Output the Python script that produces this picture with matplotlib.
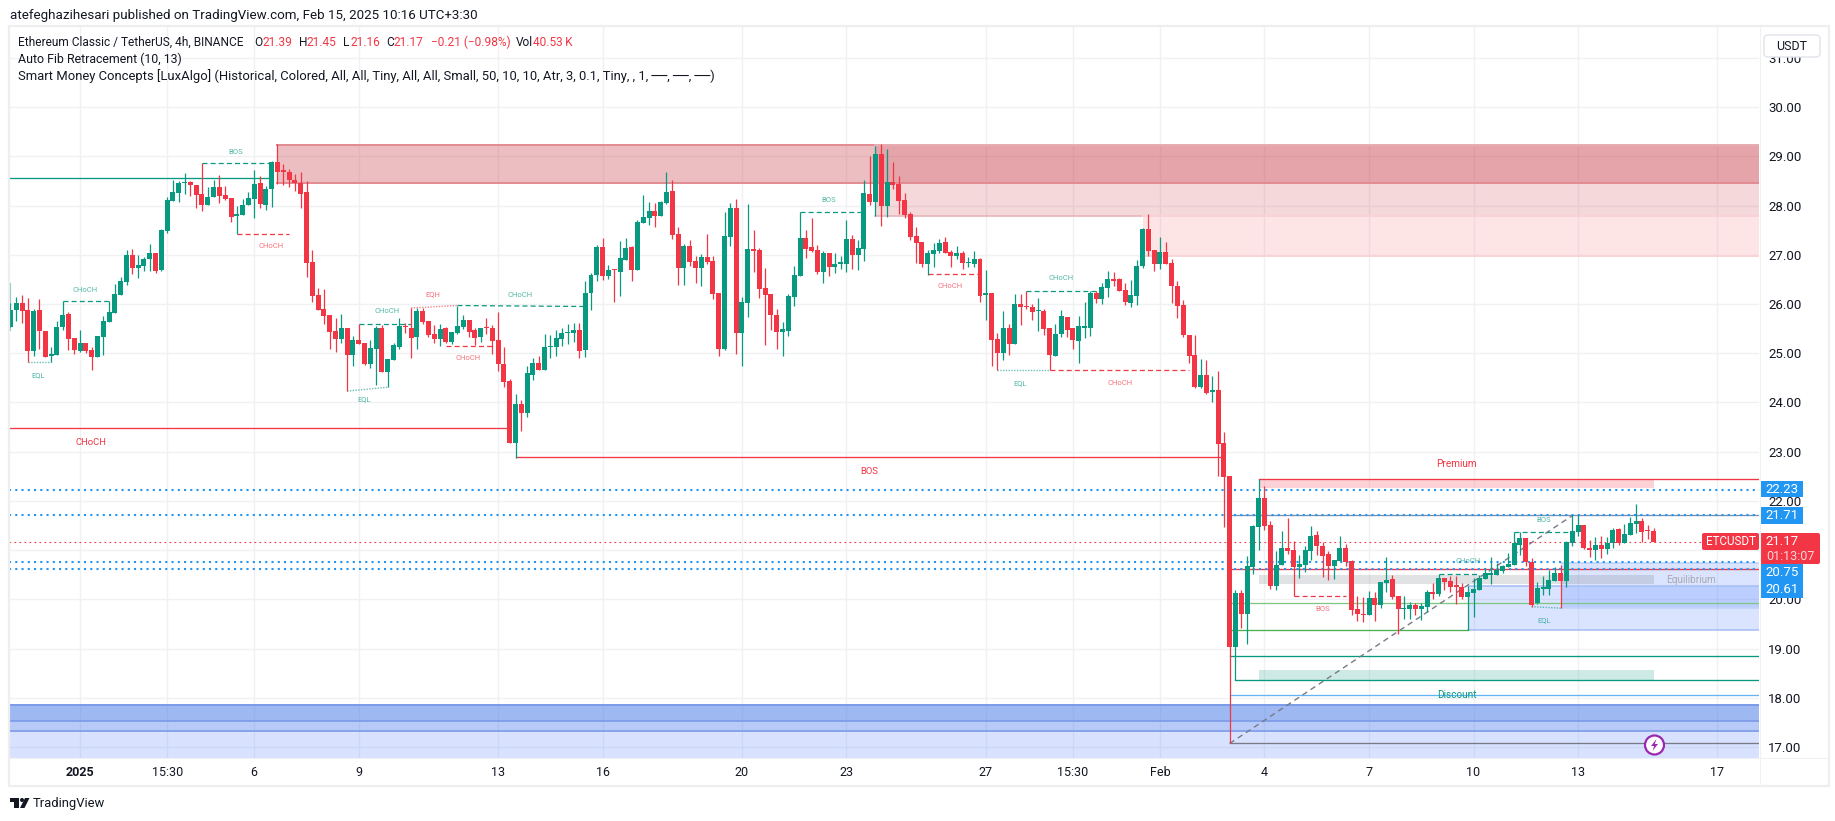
import matplotlib
matplotlib.use("Agg")
import matplotlib.pyplot as plt
from matplotlib.patches import Circle, FancyBboxPatch, Polygon, Rectangle

plt.rcParams['font.family'] = ['Roboto', 'DejaVu Sans']

# 4h candles
opens = [25.54,25.88,26.02,25.88,25.05,25.88,25.45,24.94,24.96,25.53,
25.80,25.31,25.04,25.21,25.06,24.93,25.34,25.64,25.82,26.19,
26.45,27.00,26.74,26.77,26.91,27.04,26.69,27.48,28.09,28.26,
28.46,28.48,28.42,28.24,28.01,28.18,28.38,28.22,28.15,27.78,
27.81,28.01,28.13,28.46,28.01,28.34,28.89,28.70,28.68,28.52,
28.47,28.27,26.85,26.19,25.90,25.78,25.46,25.29,25.52,24.97,
25.27,25.21,24.78,25.09,25.52,24.62,24.86,25.13,25.54,25.52,
25.33,25.86,25.66,25.39,25.29,25.52,25.23,25.41,25.54,25.68,
25.48,25.33,25.52,25.52,25.27,24.78,24.43,23.17,23.97,23.78,
24.56,24.80,24.66,25.12,25.13,25.29,25.41,25.41,25.48,25.07,
26.23,26.60,27.15,26.58,26.70,26.66,26.90,27.15,26.70,27.64,
27.74,27.90,27.78,28.05,28.29,27.43,26.74,27.17,26.88,26.74,
26.95,26.88,26.23,25.09,27.37,27.95,25.41,26.03,27.11,27.09,
26.33,26.21,25.78,25.44,25.46,26.15,26.56,27.35,27.15,27.09,
26.66,27.03,26.76,26.82,26.82,27.33,26.99,27.11,28.23,28.08,
29.04,28.00,28.49,28.43,28.12,27.82,27.39,27.27,26.82,27.01,
27.07,27.27,27.05,26.97,27.03,26.83,26.82,26.91,26.19,26.23,
25.28,25.01,25.52,25.18,26.01,25.95,25.95,25.85,25.86,25.52,
24.95,25.40,25.73,25.52,25.24,25.52,25.52,26.23,26.11,26.32,
26.49,26.50,26.29,26.03,26.17,26.78,27.52,27.09,26.82,27.05,
26.84,26.37,25.99,25.37,24.97,24.31,24.56,24.21,24.25,23.17,
22.50,19.03,20.13,19.70,20.66,21.47,22.06,21.51,20.27,20.70,
21.04,21.00,20.66,20.70,20.98,21.31,21.09,20.92,20.68,20.78,
21.04,20.78,19.81,19.70,19.68,20.03,19.89,20.33,20.41,20.07,
19.80,19.80,19.88,19.80,19.84,20.15,20.11,20.43,20.37,20.27,
20.25,20.05,20.13,20.19,20.41,20.50,20.49,20.58,20.66,20.70,
21.10,21.25,20.76,19.92,20.21,20.21,20.37,20.53,20.37,21.14,
21.37,21.51,21.04,21.00,21.10,21.02,21.14,21.43,21.14,21.31,
21.53,21.59,21.39,21.39]
highs = [26.03,26.15,26.18,26.13,25.90,26.10,25.45,25.12,25.65,26.06,
25.83,25.31,25.47,25.21,25.12,25.36,25.76,26.06,26.41,26.54,
27.10,27.12,27.00,26.96,27.22,27.04,27.52,28.18,28.52,28.51,
28.66,28.50,28.42,28.86,28.38,28.52,28.62,28.40,28.15,27.99,
28.13,28.28,28.72,28.60,28.40,28.91,29.25,28.85,28.75,28.64,
28.69,28.50,27.10,26.33,26.31,25.78,25.72,25.80,25.52,25.35,
25.60,25.21,25.27,25.56,25.58,24.88,25.21,25.72,25.61,25.92,
25.92,25.92,25.66,25.58,25.60,25.54,25.43,25.97,25.78,25.68,
25.52,25.52,25.72,25.58,25.84,25.13,24.48,24.17,24.05,24.74,
24.90,24.94,25.39,25.37,25.48,25.52,25.60,25.62,25.62,26.46,
26.64,27.19,27.35,26.80,26.72,27.29,27.35,27.17,27.70,28.21,
28.07,28.05,28.09,28.68,28.52,27.56,27.23,27.31,26.97,27.01,
27.43,26.97,26.23,27.88,28.05,28.13,26.15,28.03,27.50,27.13,
26.74,26.21,25.90,25.64,26.21,26.78,27.88,27.50,27.74,27.19,
27.07,27.03,27.03,26.97,27.70,27.41,27.31,28.53,29.00,29.22,
29.26,29.16,28.88,28.61,28.25,27.88,27.56,27.27,27.09,27.25,
27.33,27.37,27.09,27.17,27.07,26.95,27.07,26.93,26.70,26.23,
25.42,25.85,25.60,26.21,26.21,26.27,26.01,26.13,25.89,25.52,
25.60,25.87,25.73,25.52,25.75,26.05,26.27,26.27,26.42,26.68,
26.66,26.52,26.43,26.48,26.90,27.54,27.82,27.09,27.37,27.27,
26.92,26.46,26.09,25.37,25.37,24.88,24.86,24.54,24.64,23.39,
22.50,20.18,20.18,20.88,21.51,22.44,22.30,21.59,20.98,21.39,
21.65,21.19,20.90,21.09,21.49,21.39,21.17,20.98,20.80,21.29,
21.13,20.80,20.07,20.05,20.17,20.15,20.35,20.86,20.49,20.07,
20.07,19.95,19.92,19.92,20.19,20.33,20.51,20.43,20.47,20.47,
20.33,20.27,20.43,20.49,20.64,20.86,20.74,20.70,20.94,21.37,
21.37,21.25,20.84,20.35,20.47,20.60,20.66,20.70,21.18,21.71,
21.71,21.51,21.21,21.27,21.29,21.27,21.45,21.45,21.53,21.67,
21.94,21.65,21.51,21.45]
lows = [25.54,25.66,25.61,24.83,24.95,25.08,24.93,24.83,24.96,25.48,
25.07,24.99,25.02,25.01,24.66,24.93,24.96,25.63,25.82,26.19,
26.39,26.61,26.53,26.67,26.67,26.64,26.68,27.44,28.09,28.07,
28.24,28.20,27.95,27.89,28.01,28.18,28.05,28.11,27.67,27.42,
27.81,28.01,27.75,27.95,27.91,27.97,28.44,28.42,28.38,28.30,
27.96,26.54,26.05,25.88,25.60,25.09,25.03,25.21,24.23,24.74,
25.19,24.76,24.70,24.35,24.62,24.31,24.86,25.09,25.41,24.90,
25.09,25.60,25.33,25.21,25.14,25.21,25.19,25.39,25.50,25.33,
25.17,25.23,25.39,24.99,24.64,24.31,23.17,22.88,23.41,23.70,
24.46,24.66,24.66,24.90,24.94,25.15,25.19,25.23,24.90,24.92,
25.88,26.46,26.48,26.50,26.05,26.17,26.90,26.46,26.70,27.64,
27.60,27.56,27.78,28.03,27.33,26.39,26.39,26.78,26.43,26.37,
26.82,26.11,24.95,25.07,27.17,24.99,24.74,25.74,26.66,26.13,
25.17,25.48,25.09,24.95,25.35,25.97,26.56,26.93,27.05,26.62,
26.43,26.58,26.64,26.72,26.66,26.72,26.70,26.87,28.02,27.78,
27.58,27.76,28.33,27.84,27.74,27.31,26.84,26.76,26.60,26.76,
27.03,27.03,26.76,26.91,26.72,26.76,26.76,26.05,25.68,24.75,
24.65,24.87,24.97,25.18,25.58,25.89,25.67,25.46,25.38,24.65,
24.95,25.34,25.34,25.08,24.81,25.30,25.36,26.03,26.01,26.15,
26.36,26.27,25.99,25.95,25.99,26.74,26.97,26.68,26.72,26.82,
26.03,25.72,25.33,24.80,24.29,24.29,24.17,24.01,22.50,21.47,
17.07,18.37,19.42,19.09,20.52,21.00,21.41,20.21,20.19,20.70,
20.92,20.07,20.43,20.56,20.80,20.90,20.46,20.39,20.41,20.78,
20.68,19.68,19.56,19.54,19.68,19.56,19.83,20.15,20.01,19.29,
19.60,19.60,19.68,19.58,19.74,20.01,20.07,20.19,20.15,19.90,
20.01,19.38,19.64,20.19,20.41,20.31,20.49,20.53,20.66,20.70,
20.90,20.68,19.84,19.90,20.09,20.09,20.37,19.82,20.25,21.08,
21.29,21.02,20.86,20.80,20.84,20.92,21.04,21.10,21.14,21.31,
21.35,21.16,21.23,21.16]
closes = [25.88,26.02,25.86,25.05,25.86,25.46,24.93,24.98,25.53,25.77,
25.29,25.06,25.21,25.04,24.93,25.35,25.65,25.84,26.20,26.47,
27.00,26.74,26.79,26.91,27.04,26.67,27.50,28.11,28.28,28.46,
28.48,28.41,28.22,28.01,28.18,28.38,28.20,28.13,27.77,27.83,
28.01,28.15,28.44,28.03,28.34,28.89,28.68,28.69,28.52,28.47,
28.24,26.84,26.17,25.88,25.76,25.43,25.29,25.52,24.97,25.27,
25.19,24.78,25.11,25.52,24.62,24.88,25.17,25.56,25.53,25.31,
25.86,25.64,25.37,25.29,25.50,25.23,25.43,25.56,25.68,25.43,
25.31,25.52,25.51,25.25,24.78,24.41,23.17,23.97,23.78,24.60,
24.80,24.66,25.13,25.13,25.31,25.41,25.43,25.48,25.05,26.23,
26.60,27.15,26.58,26.70,26.69,26.93,27.13,26.70,27.66,27.76,
27.90,27.78,28.07,28.27,27.41,26.74,27.17,26.86,26.74,26.95,
26.86,26.21,25.09,27.39,27.95,25.41,26.05,27.11,27.07,26.31,
26.19,25.78,25.44,25.50,26.17,26.60,27.35,27.11,27.07,26.66,
27.03,26.76,26.82,26.84,27.33,26.99,27.13,28.25,28.08,29.04,
28.00,28.49,28.41,28.10,27.80,27.37,27.25,26.82,27.03,27.09,
27.25,27.03,26.97,27.03,26.84,26.84,26.91,26.17,26.23,25.26,
25.01,25.52,25.18,26.01,25.93,25.93,25.83,25.86,25.50,24.97,
25.40,25.75,25.48,25.26,25.56,25.54,26.23,26.11,26.34,26.50,
26.47,26.27,26.05,26.19,26.78,27.52,27.07,26.82,27.05,26.82,
26.37,25.97,25.37,24.95,24.31,24.56,24.19,24.25,23.15,22.48,
19.03,20.12,19.70,20.68,21.49,22.06,21.49,20.27,20.70,21.04,
20.98,20.66,20.72,21.00,21.29,21.09,20.88,20.68,20.80,21.04,
20.76,19.79,19.70,19.68,20.03,19.89,20.35,20.39,20.05,19.80,
19.82,19.88,19.80,19.86,20.15,20.11,20.43,20.35,20.25,20.26,
20.05,20.15,20.21,20.43,20.53,20.51,20.60,20.68,20.72,21.14,
21.25,20.76,19.88,20.23,20.23,20.39,20.53,20.37,21.16,21.39,
21.51,21.04,21.00,21.10,21.02,21.14,21.41,21.14,21.33,21.55,
21.59,21.37,21.38,21.17]

date_ticks = [12, 27, 42, 60, 84, 102, 126, 144, 168, 183, 198, 216, 234, 252, 270, 294]
date_labels = ['2025', '15:30', '6', '9', '13', '16', '20', '23', '27', '15:30', 'Feb', '4', '7', '10', '13', '17']
price_ticks = list(range(17, 32))

fib_levels = [22.23, 21.71, 20.75, 20.61]
last_price = 21.17

# structure lines: (start, start price, end, end price)
green_dashes = [(33, 28.86, 45, 28.86), (9, 26.06, 17, 26.06), (60, 25.59, 69, 25.59),
                (77, 25.97, 99, 25.95), (136, 27.88, 147, 27.88), (175, 26.27, 187, 26.27),
                (246, 20.52, 253, 20.52), (259, 21.36, 269, 21.36)]
red_dashes = [(39, 27.42, 48, 27.42), (75, 25.14, 83, 25.14), (158, 26.61, 167, 26.61),
              (179, 24.65, 203, 24.65), (221, 20.07, 230, 20.07)]
eql_dots = [(3, 24.83, 7, 24.83), (58, 24.23, 65, 24.31), (170, 24.65, 179, 24.65),
            (262, 19.85, 267, 19.82)]
eqh_dots = [(69, 25.92, 77, 25.97)]
small_green = [('BOS', 38.8, 29.08), ('CHoCH', 12.8, 26.29), ('EQL', 4.8, 24.56),
               ('CHoCH', 64.9, 25.85), ('EQL', 60.9, 24.06), ('CHoCH', 87.8, 26.19),
               ('BOS', 140.9, 28.11), ('CHoCH', 180.9, 26.52), ('EQL', 173.9, 24.39),
               ('CHoCH', 251, 20.78), ('BOS', 264.1, 21.62), ('EQL', 264.1, 19.57)]
small_red = [('CHoCH', 44.9, 27.18), ('EQH', 72.8, 26.20), ('CHoCH', 78.8, 24.90),
             ('CHoCH', 161.8, 26.36), ('CHoCH', 191.1, 24.39), ('BOS', 226, 19.81)]

GREEN = '#089981'
RED = '#F23645'
BLUE = '#2196F3'
TEXT = '#131722'

fig = plt.figure(figsize=(18.35, 8.21), dpi=100)
ax = fig.add_axes([9 / 1835, 1 - 758 / 821, 1750 / 1835, 731 / 821])
x_min, x_max = -0.24, 301.17
ax.set_xlim(x_min, x_max)
ax.set_ylim(16.775, 31.63)

ax.set_xticks(date_ticks)
ax.set_xticklabels(date_labels, fontsize=9, color=TEXT)
ax.get_xticklabels()[0].set_fontweight('bold')
ax.set_yticks(price_ticks)
ax.set_yticklabels([f'{p:.2f}' for p in price_ticks], fontsize=9.5, color=TEXT)
ax.yaxis.tick_right()
ax.tick_params(axis='x', length=0, pad=6)
ax.tick_params(axis='y', length=0, pad=6.5)
ax.grid(True, color='#f0f1f3', lw=1)
ax.set_axisbelow(True)
for s in ax.spines.values():
    s.set_visible(False)


def zone(x0, x1, top, bottom, color, alpha, edge=None, lw=1.2):
    ax.fill_between([x0, x1], bottom, top, color=color, alpha=alpha, lw=0, zorder=1)
    if edge:
        ax.plot([x0, x1], [top, top], color=edge, lw=lw, zorder=1.5)
        ax.plot([x0, x1], [bottom, bottom], color=edge, lw=lw, zorder=1.5)


def level(x0, y, color, lw=0.95, **kw):
    ax.plot([x0, x_max], [y, y], color=color, lw=lw, zorder=2, **kw)


# order blocks at the top
zone(46, x_max, 29.23, 28.47, '#c83c46', 0.33, '#e28a92', 1.4)
zone(149, x_max, 29.23, 27.78, '#c83c46', 0.20, '#e8b4b9')
zone(195, x_max, 27.79, 26.98, RED, 0.13, '#fbd3d6', 1.4)
# order blocks at the bottom
zone(x_min, x_max, 17.85, 16.775, '#2962ff', 0.18)
zone(x_min, x_max, 17.85, 17.33, '#2a5fd8', 0.18, '#7b9be8')
zone(x_min, x_max, 17.85, 17.52, '#2a6be0', 0.18, '#7b9be8')
zone(251, x_max, 20.28, 19.38, '#2962ff', 0.17, '#a9c1f5')
zone(267, x_max, 20.73, 19.83, '#2962ff', 0.17, '#c3d4f8')
# premium / equilibrium / discount
zone(215, 283, 22.44, 22.26, RED, 0.22)
zone(215, 283, 20.50, 20.31, '#787b86', 0.22)
zone(215, 283, 18.57, 18.37, GREEN, 0.20)

ax.plot([x_min, 45], [28.56, 28.56], color=GREEN, lw=0.95, zorder=2)
ax.plot([x_min, 86], [23.49, 23.49], color=RED, lw=0.95, zorder=2)
ax.plot([87, 209], [22.90, 22.90], color=RED, lw=0.95, zorder=2)
ax.plot([-0.1, -0.1], [25.48, 26.40], color=GREEN, lw=1.5, alpha=0.5, zorder=2)

# auto fib levels
level(215, 22.44, RED)
level(210, 21.72, '#7a8fb0')
level(210, 20.61, RED)
level(210, 19.93, '#81c784')
ax.plot([210, 251], [19.38, 19.38], color='#4caf50', lw=0.95, zorder=2)
level(210, 18.84, GREEN)
level(211, 18.37, GREEN)
level(210, 18.06, '#64b5f6')
level(210, 17.07, '#787b86')
ax.plot([210, 269], [17.07, 21.70], color='#787b86', lw=1, ls=(0, (4, 3)), zorder=2)

for p in fib_levels:
    ax.axhline(p, color=BLUE, lw=1.5, ls=(0, (1, 2)), zorder=2.2)
ax.axhline(last_price, color=RED, lw=0.8, ls=(0, (1.5, 3)), zorder=2.2)

for x0, y0, x1, y1 in green_dashes:
    ax.plot([x0, x1], [y0, y1], color=GREEN, lw=0.9, ls=(0, (4, 2.5)), zorder=2)
for x0, y0, x1, y1 in red_dashes:
    ax.plot([x0, x1], [y0, y1], color=RED, lw=0.9, ls=(0, (4, 2.5)), zorder=2)
for x0, y0, x1, y1 in eql_dots:
    ax.plot([x0, x1], [y0, y1], color=GREEN, lw=1, alpha=0.6, ls=(0, (1, 1)), zorder=2)
for x0, y0, x1, y1 in eqh_dots:
    ax.plot([x0, x1], [y0, y1], color=RED, lw=1, alpha=0.6, ls=(0, (1, 1)), zorder=2)

# candles
xs = list(range(len(opens)))
colors = [GREEN if c >= o else RED for o, c in zip(opens, closes)]
ax.vlines(xs, lows, highs, colors=colors, lw=0.9, zorder=3)
ax.bar(xs, [max(abs(c - o), 0.03) for o, c in zip(opens, closes)],
       bottom=[min(o, c) for o, c in zip(opens, closes)],
       width=0.86, color=colors, lw=0, zorder=3)

for name, x, y in small_green:
    ax.text(x, y, name, color=GREEN, alpha=0.7, fontsize=5.5, ha='center', va='center', zorder=4)
for name, x, y in small_red:
    ax.text(x, y, name, color=RED, alpha=0.7, fontsize=5.5, ha='center', va='center', zorder=4)
ax.text(13.9, 23.18, 'CHoCH', color=RED, fontsize=6.8, ha='center', va='center', zorder=4)
ax.text(147.9, 22.59, 'BOS', color=RED, fontsize=6.8, ha='center', va='center', zorder=4)
ax.text(249, 22.75, 'Premium', color=RED, fontsize=7.2, ha='center', va='center', zorder=4)
ax.text(249.2, 18.06, 'Discount', color=GREEN, fontsize=7.2, ha='center', va='center', zorder=4)
ax.text(289.5, 20.39, 'Equilibrium', color='#a8aab2', fontsize=7.2, ha='center', va='center', zorder=4)

# overlay in figure pixels for the frame, legend and axis badges
ov = fig.add_axes([0, 0, 1, 1], zorder=5)
ov.set_xlim(0, 1835)
ov.set_ylim(821, 0)
ov.axis('off')
ov.patch.set_alpha(0)

ov.add_patch(Rectangle((8.5, 26.5), 1820, 759.5, fill=False, ec='#eeeeef', lw=1.6))
ov.plot([9, 1828], [758, 758], color='#f0f1f3', lw=0.8)
ov.plot([1759.5, 1759.5], [27, 786], color='#f0f1f3', lw=0.8)


def t(x, y, s, color=TEXT, size=8.6, **kw):
    ov.text(x, y, s, color=color, fontsize=size, va='center', **kw)


t(10, 15, 'atefeghazihesari published on TradingView.com, Feb 15, 2025 10:16 UTC+3:30', size=9.6)
t(18, 42.5, 'Ethereum Classic / TetherUS, 4h, BINANCE')
for x, s in [(254, 'O'), (299, 'H'), (343, 'L'), (386, 'C'), (516, 'Vol')]:
    t(x, 42.5, s)
for x, s in [(262, '21.39'), (306, '21.45'), (350, '21.16'), (393, '21.17'),
             (430.5, '\u22120.21 (\u22120.98%)'), (533, '40.53\u2009K')]:
    t(x, 42.5, s, color=RED)
t(18, 59.5, 'Auto Fib Retracement (10, 13)', size=8.9)
t(18, 76.5, 'Smart Money Concepts [LuxAlgo] (Historical, Colored, All, All, Tiny, All, All, '
            'Small, 50, 10, 10, Atr, 3, 0.1, Tiny, , 1, \u2500\u2500, \u2500\u2500, \u2500\u2500)', size=9.4)

# USDT button
ov.add_patch(FancyBboxPatch((1764, 35), 56, 22, boxstyle='round,pad=0,rounding_size=4',
                            fc='white', ec='#e0e3eb', lw=1))
t(1792, 46, 'USDT', size=9, ha='center')

# price badges
for top, bottom, label in [(481, 497.5, '22.23'), (507, 524, '21.71'),
                           (564, 581, '20.75'), (581, 598, '20.61')]:
    ov.add_patch(Rectangle((1760, top), 43, bottom - top, fc=BLUE, ec='none'))
    t(1782, (top + bottom) / 2, label, color='white', size=9.5, ha='center')
ov.add_patch(FancyBboxPatch((1702, 533), 57, 17, boxstyle='round,pad=0,rounding_size=2',
                            fc=RED, ec='none'))
t(1730.5, 541.5, 'ETCUSDT', color='white', size=8.4, ha='center')
ov.add_patch(FancyBboxPatch((1760, 533), 60, 31, boxstyle='round,pad=0,rounding_size=2',
                            fc=RED, ec='none'))
t(1782, 541.5, '21.17', color='white', size=9.5, ha='center')
t(1790, 556, '01:13:07', color='#fbd5d8', size=9, ha='center')

# lightning icon on the chart
ov.add_patch(Circle((1654.5, 745), 9.5, fc='white', ec='#9c27b0', lw=1.6))
ov.add_patch(Polygon([(1656.5, 739), (1651, 746), (1654.2, 746), (1652.5, 751),
                      (1658, 744), (1654.8, 744)], fc='#9c27b0', ec='none'))

# TradingView logo
ov.add_patch(Polygon([(10, 798), (19, 798), (19, 808), (14, 808), (14, 802), (10, 802)],
                     fc=TEXT, ec='none'))
ov.add_patch(Circle((22, 800), 2, fc=TEXT, ec='none'))
ov.add_patch(Polygon([(25, 798), (29.5, 798), (24.5, 808), (20, 808)], fc=TEXT, ec='none'))
t(33, 803, 'TradingView', size=9.4)

fig.savefig('out.png', dpi=100)
